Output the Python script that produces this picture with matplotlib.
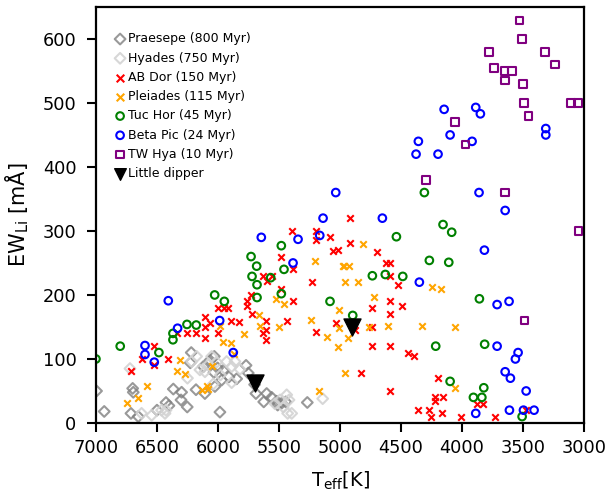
import matplotlib
matplotlib.use("Agg")
import matplotlib.pyplot as plt

# Praesepe (800 Myr)
praesepe_teff = [6995, 6932, 6699, 6694, 6713, 6653, 6500, 6426, 6402, 6366, 6298, 6303,
                 6252, 6219, 6227, 6066, 6030, 6003, 5957, 6033, 5970, 6107, 6025, 5984,
                 5770, 5752, 5689, 5625, 5601, 5519, 5511, 5478, 5445, 5268, 5847, 6180,
                 6120, 5910, 5700, 5560]
praesepe_ew = [50, 18, 54, 48, 15, 10, 20, 32, 27, 53, 48, 36,
               25, 110, 94, 98, 104, 86, 82, 79, 67, 46, 57, 17,
               90, 78, 46, 33, 46, 34, 28, 31, 33, 32, 69, 52,
               88, 72, 60, 40]

# Hyades (750 Myr)
hyades_teff = [6721, 6626, 6543, 6434, 6216, 6175, 6148, 6107, 6080, 6052, 6038, 5929,
               5888, 5861, 5888, 5437, 5418, 5465, 5429, 5396, 5492, 5533, 6426, 6462,
               5142, 5980, 6010, 6250, 5820]
hyades_ew = [85, 15, 12, 15, 96, 104, 83, 80, 91, 104, 61, 96,
             88, 96, 63, 44, 36, 25, 15, 15, 36, 30, 20, 20,
             38, 75, 95, 70, 84]

# AB Dor (150 Myr)
abdor_teff = [5391, 5194, 5194, 5085, 4920, 4920, 5060, 5016, 5481, 5385, 5227, 5634,
              5601, 5560, 5481, 5729, 5760, 5760, 5719, 5997, 5951, 5916, 6107, 6066,
              6107, 6107, 5896, 5828, 5997, 6178, 6257, 6334, 5604, 5604, 5634, 5607,
              5432, 5385, 5194, 5035, 6522, 6522, 6626, 6407, 6713,
              4699, 4625, 4588, 4588, 4525, 4588, 4735, 4489, 4588, 4735, 4735, 4588,
              4440, 4393, 4825, 4588, 4197, 4224, 4224, 4156, 4361, 4268, 4257, 4164,
              4011, 3880, 3825, 3727, 3475, 4880]
abdor_ew = [300, 300, 286, 290, 320, 281, 268, 270, 260, 240, 220, 229,
            222, 229, 210, 200, 190, 182, 170, 180, 180, 180, 165, 156,
            150, 133, 160, 157, 140, 140, 140, 140, 160, 145, 140, 130,
            160, 191, 142, 156, 121, 91, 100, 100, 81,
            267, 250, 250, 230, 215, 190, 180, 182, 170, 150, 120, 120,
            110, 105, 78, 50, 70, 40, 34, 40, 20, 20, 10, 15,
            10, 30, 30, 10, 20, 145]

# Pleiades (115 Myr)
pleiades_teff = [5208, 4970, 4959, 5527, 5459, 5661, 5656, 5500, 5235, 5008, 5008, 4937,
                 5107, 5014, 4959, 5172, 5986, 5787, 5962, 5896, 5866, 6311, 6334, 6273,
                 6584, 6653, 6743, 6129, 6093, 6080, 6050,
                 4809, 4973, 4929, 4850, 4721, 4760, 4609, 4328, 4060, 4249, 4175, 4060]
pleiades_ew = [253, 245, 221, 194, 186, 168, 152, 150, 161, 177, 148, 132,
               134, 119, 78, 50, 152, 139, 127, 125, 108, 98, 81, 76,
               57, 39, 31, 52, 57, 53, 89,
               279, 245, 245, 221, 197, 150, 152, 152, 150, 212, 210, 55]

# Tuc Hor (45 Myr)
tuchor_teff = [7000, 6801, 6484, 6369, 6369, 6254, 6178, 6027, 5948, 5729, 5683, 5721,
               5680, 5680, 5481, 5459, 5568, 5481, 5082,
               4309, 4156, 4085, 4538, 4268, 4109, 4735, 4629, 4486, 3858, 4896, 4216,
               3815, 4098, 3822, 3907, 3838, 3508]
tuchor_ew = [100, 120, 110, 140, 130, 154, 153, 200, 190, 260, 245, 229,
             216, 196, 277, 240, 227, 202, 190,
             360, 310, 298, 291, 254, 251, 230, 232, 229, 194, 168, 120,
             123, 65, 55, 40, 40, 10]

# Beta Pic (24 Myr)
betapic_teff = [4147, 3888, 3850, 4358, 4098, 3918, 3314, 3314, 4377, 4197, 3861, 5035,
                5139, 5166, 5645, 5344, 5385, 6407, 5986, 6331, 6598, 6598, 6522, 5875,
                4653, 3647, 3817, 4350, 3713, 3615, 3713, 3541, 3563, 3647, 3604, 3475,
                3612, 3497, 3410, 3888]
betapic_ew = [490, 493, 483, 440, 450, 440, 460, 450, 420, 420, 360, 360,
              320, 293, 290, 287, 250, 191, 160, 148, 121, 107, 95, 110,
              320, 332, 270, 220, 185, 190, 120, 110, 100, 80, 70, 50,
              20, 20, 20, 15]

# TW Hya (10 Myr)
twhya_teff = [3530, 3511, 3779, 3320, 3238, 3740, 3653, 3590, 3647, 3500, 3492, 3109,
              3049, 3456, 4060, 3973, 4297, 3647, 3047, 3489]
twhya_ew = [629, 600, 580, 580, 560, 555, 550, 550, 535, 530, 500, 500,
            500, 480, 470, 435, 380, 360, 300, 160]

# Little dipper
dipper_teff = [5700, 4900]
dipper_ew = [62, 150]

fig = plt.figure(figsize=(6.11, 4.95), dpi=100)
ax = fig.add_axes([0.157, 0.1455, 0.799, 0.8405])

open_kw = dict(facecolor="none", linewidths=1.5)
ax.scatter(praesepe_teff, praesepe_ew, marker="D", s=30, edgecolors="gray",
           alpha=0.8, label="Praesepe (800 Myr)", **open_kw)
ax.scatter(hyades_teff, hyades_ew, marker="D", s=30, edgecolors="lightgray",
           alpha=0.9, label="Hyades (750 Myr)", **open_kw)
ax.scatter(abdor_teff, abdor_ew, marker="x", s=22, color="red", linewidths=1.5,
           label="AB Dor (150 Myr)")
ax.scatter(pleiades_teff, pleiades_ew, marker="x", s=22, color="orange", linewidths=1.5,
           label="Pleiades (115 Myr)")
ax.scatter(tuchor_teff, tuchor_ew, marker="o", s=30, edgecolors="green",
           label="Tuc Hor (45 Myr)", **open_kw)
ax.scatter(betapic_teff, betapic_ew, marker="o", s=30, edgecolors="blue",
           label="Beta Pic (24 Myr)", **open_kw)
ax.scatter(twhya_teff, twhya_ew, marker="s", s=30, edgecolors="purple",
           label="TW Hya (10 Myr)", **open_kw)
ax.scatter(dipper_teff, dipper_ew, marker="v", s=150, color="black", zorder=5,
           label="Little dipper")

ax.set_xlim(7000, 3000)
ax.set_ylim(0, 650)
ax.set_xticks([7000, 6500, 6000, 5500, 5000, 4500, 4000, 3500, 3000])
ax.set_yticks([0, 100, 200, 300, 400, 500, 600])
ax.tick_params(labelsize=12.8, width=1.5, length=6.5, pad=5)
ax.tick_params(axis="y", pad=7.5)
for sp in ax.spines.values():
    sp.set_linewidth(1.6)

ax.set_xlabel(r"T$_{\rm eff}$[K]", fontsize=14, labelpad=9)
ax.set_ylabel(r"EW$_{\rm Li}$ [mÅ]", fontsize=15, labelpad=8)

leg = ax.legend(loc="upper left", bbox_to_anchor=(0.029, 0.951), borderaxespad=0,
                frameon=False, fontsize=9, handlelength=0.8, handletextpad=0.25,
                labelspacing=0.5)
for h in leg.legend_handles[:-1]:
    h.set_sizes([30])
leg.legend_handles[-1].set_sizes([70])

fig.savefig("out.png", dpi=100, facecolor="white")
